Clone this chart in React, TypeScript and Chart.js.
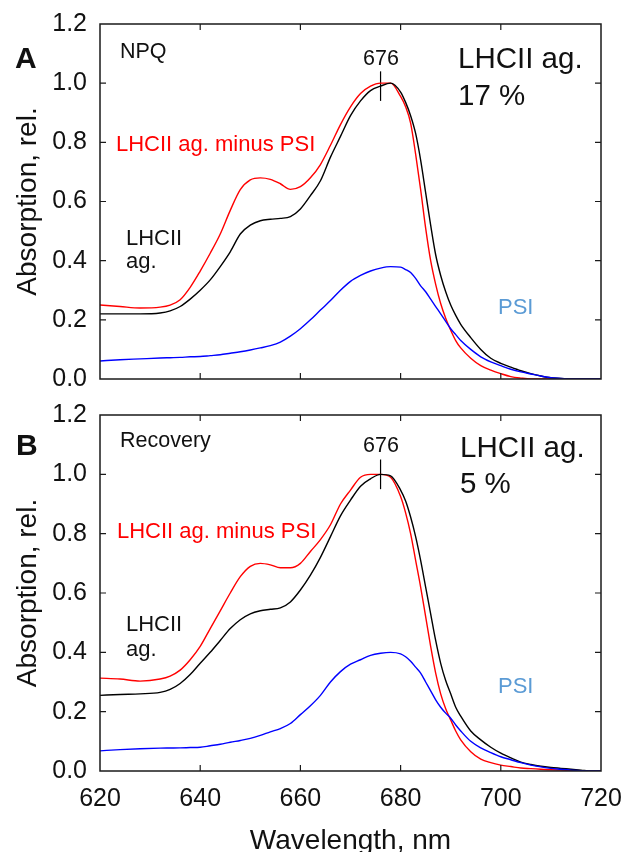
import React, { useEffect, useRef } from "react";
import { Chart, registerables } from "chart.js";

Chart.register(...registerables);

// ---- data ----
const wavelengths = [
  620, 624, 628, 632, 634, 636, 638, 640, 642, 644, 646, 648, 650, 652, 654, 656, 658, 660,
  662, 664, 666, 668, 670, 672, 674, 676, 678, 680, 681, 682, 683, 684, 685, 686, 687, 688,
  689, 690, 691, 692, 694, 696, 698, 700, 702, 704, 706, 708, 710, 712, 714, 716, 718, 720,
];

// Panel A – NPQ
const npqMinusPSI = [
  0.25, 0.245, 0.24, 0.243, 0.25, 0.268, 0.31, 0.365, 0.425, 0.49, 0.57, 0.64, 0.673, 0.68, 0.675, 0.66, 0.641, 0.65,
  0.68, 0.725, 0.79, 0.86, 0.92, 0.965, 0.99, 1.0, 1.0, 0.955, 0.92, 0.865, 0.76, 0.64, 0.51, 0.4, 0.32, 0.255,
  0.205, 0.165, 0.13, 0.105, 0.07, 0.045, 0.03, 0.018, 0.008, 0.003, 0, 0, 0, 0, 0, 0, 0, 0,
];
const npqLHCII = [
  0.22, 0.22, 0.22, 0.223, 0.23, 0.245, 0.27, 0.3, 0.335, 0.38, 0.43, 0.49, 0.52, 0.535, 0.54, 0.543, 0.549, 0.575,
  0.62, 0.67, 0.75, 0.82, 0.89, 0.94, 0.975, 0.99, 1.0, 0.97, 0.935, 0.89, 0.83, 0.74, 0.63, 0.52, 0.42, 0.35,
  0.295, 0.25, 0.215, 0.185, 0.14, 0.1, 0.07, 0.053, 0.04, 0.028, 0.018, 0.01, 0.004, 0.002, 0, 0, 0, 0,
];
const npqPSI = [
  0.061, 0.065, 0.068, 0.071, 0.072, 0.073, 0.075, 0.076, 0.079, 0.082, 0.087, 0.092, 0.098, 0.105, 0.113, 0.125, 0.145, 0.17,
  0.2, 0.233, 0.265, 0.3, 0.33, 0.35, 0.365, 0.375, 0.38, 0.378, 0.37, 0.36, 0.34, 0.315, 0.295, 0.27, 0.245, 0.22,
  0.195, 0.17, 0.15, 0.13, 0.1, 0.075, 0.058, 0.045, 0.033, 0.024, 0.017, 0.01, 0.004, 0.002, 0, 0, 0, 0,
];

// Panel B – Recovery
const recMinusPSI = [
  0.313, 0.31, 0.303, 0.31, 0.32, 0.34, 0.375, 0.42, 0.48, 0.54, 0.6, 0.655, 0.69, 0.7, 0.695, 0.685, 0.685, 0.7,
  0.74, 0.78, 0.83, 0.9, 0.947, 0.99, 1.0, 1.0, 0.99, 0.925, 0.87, 0.8, 0.71, 0.62, 0.52, 0.42, 0.33, 0.26,
  0.21, 0.172, 0.135, 0.105, 0.065, 0.04, 0.028, 0.02, 0.015, 0.01, 0.008, 0.006, 0.004, 0.003, 0.002, 0.001, 0, 0,
];
const recLHCII = [
  0.255, 0.258, 0.26, 0.265, 0.275, 0.295, 0.325, 0.363, 0.4, 0.44, 0.48, 0.51, 0.53, 0.54, 0.545, 0.55, 0.57, 0.61,
  0.66, 0.72, 0.79, 0.86, 0.913, 0.96, 0.985, 1.0, 0.995, 0.947, 0.91, 0.856, 0.79, 0.71, 0.62, 0.53, 0.44, 0.363,
  0.305, 0.26, 0.215, 0.185, 0.135, 0.105, 0.08, 0.06, 0.044, 0.03, 0.022, 0.016, 0.012, 0.009, 0.006, 0.003, 0, 0,
];
const recPSI = [
  0.068, 0.072, 0.075, 0.077, 0.0775, 0.078, 0.079, 0.08, 0.085, 0.09, 0.097, 0.103, 0.11, 0.12, 0.132, 0.143, 0.16, 0.19,
  0.22, 0.255, 0.3, 0.335, 0.36, 0.375, 0.39, 0.397, 0.4, 0.395, 0.385, 0.37, 0.35, 0.33, 0.3, 0.27, 0.24, 0.215,
  0.195, 0.178, 0.155, 0.135, 0.1, 0.078, 0.062, 0.048, 0.038, 0.028, 0.02, 0.014, 0.009, 0.006, 0.003, 0.001, 0, 0,
];

const xTicks = [620, 640, 660, 680, 700, 720];
const yTicks = [0, 0.2, 0.4, 0.6, 0.8, 1.0, 1.2];
const peakWavelength = 676;
const peakMarkA = [0.94, 1.04];
const peakMarkB = [0.95, 1.05];

const FONT = "'Liberation Sans', Arial, Helvetica, sans-serif";
const INK = "#111111";

type Note = { text: string; x: number; y: number; size: number; color?: string; bold?: boolean; align?: CanvasTextAlign };

function pts(vals: number[]) {
  return wavelengths.map((w, i) => ({ x: w, y: vals[i] }));
}

function buildChart(
  canvas: HTMLCanvasElement,
  red: number[],
  black: number[],
  blue: number[],
  mark: number[],
  notes: Note[],
  showX: boolean,
  padTop: number,
  xHeight: number
) {
  const framePlugin = {
    id: "frameTicks",
    afterDatasetsDraw(chart: any) {
      const { ctx, chartArea: a, scales } = chart;
      ctx.save();
      ctx.strokeStyle = "#1a1a1a";
      ctx.lineWidth = 1.5;
      ctx.strokeRect(a.left, a.top, a.right - a.left, a.bottom - a.top);
      const L = 6;
      ctx.lineWidth = 1.2;
      ctx.beginPath();
      for (const v of xTicks) {
        const px = scales.x.getPixelForValue(v);
        if (px <= a.left + 1 || px >= a.right - 1) continue;
        ctx.moveTo(px, a.bottom);
        ctx.lineTo(px, a.bottom - L);
        ctx.moveTo(px, a.top);
        ctx.lineTo(px, a.top + L);
      }
      for (const v of yTicks) {
        const py = scales.y.getPixelForValue(v);
        if (py >= a.bottom - 1 || py <= a.top + 1) continue;
        ctx.moveTo(a.left, py);
        ctx.lineTo(a.left + L, py);
        ctx.moveTo(a.right, py);
        ctx.lineTo(a.right - L, py);
      }
      ctx.stroke();
      for (const n of notes) {
        ctx.font = `${n.bold ? "bold " : ""}${n.size}px ${FONT}`;
        ctx.fillStyle = n.color || INK;
        ctx.textAlign = n.align || "left";
        ctx.textBaseline = "alphabetic";
        ctx.fillText(n.text, n.x, n.y);
      }
      ctx.restore();
    },
  };

  const ds = (data: any[], color: string, width = 1.4) => ({
    data,
    borderColor: color,
    borderWidth: width,
    pointRadius: 0,
    fill: false,
    cubicInterpolationMode: "monotone" as const,
  });

  return new Chart(canvas, {
    type: "line",
    data: {
      datasets: [
        ds(pts(blue), "#0000ff"),
        ds(pts(black), "#000000"),
        ds(pts(red), "#ff0000"),
        ds(
          mark.map((v) => ({ x: peakWavelength, y: v })),
          "#000000",
          1.2
        ),
      ],
    },
    options: {
      responsive: false,
      animation: false,
      events: [],
      layout: { padding: { left: 0, top: padTop, right: 22, bottom: 0 } },
      plugins: { legend: { display: false }, tooltip: { enabled: false } },
      scales: {
        x: {
          type: "linear",
          min: 620,
          max: 720,
          afterFit: (s: any) => {
            s.height = xHeight;
            s.paddingLeft = 0;
            s.paddingRight = 0;
          },
          grid: { display: false, drawTicks: false },
          border: { display: false },
          ticks: {
            display: showX,
            stepSize: 20,
            padding: 13,
            color: INK,
            font: { family: FONT, size: 25 },
          },
          title: {
            display: showX,
            text: "Wavelength, nm",
            color: INK,
            font: { family: FONT, size: 28, lineHeight: 1 },
            padding: { top: 0, bottom: -3 },
          },
        },
        y: {
          type: "linear",
          min: 0,
          max: 1.2,
          afterFit: (s: any) => {
            s.width = 100;
            s.paddingTop = 0;
            s.paddingBottom = 0;
          },
          grid: { display: false, drawTicks: false },
          border: { display: false },
          ticks: {
            stepSize: 0.2,
            padding: 13,
            color: INK,
            font: { family: FONT, size: 25 },
            callback: (v: any) => Number(v).toFixed(1),
          },
          title: {
            display: true,
            text: "Absorption, rel.",
            color: INK,
            font: { family: FONT, size: 28 },
            padding: { top: 11, bottom: 0 },
          },
        },
      },
    } as any,
    plugins: [framePlugin],
  });
}

const notesA: Note[] = [
  { text: "A", x: 15, y: 68, size: 30, bold: true },
  { text: "NPQ", x: 120, y: 58, size: 21.5 },
  { text: "676", x: 381, y: 65, size: 21.5, align: "center" },
  { text: "LHCII ag.", x: 458, y: 68, size: 29.5 },
  { text: "17 %", x: 458, y: 105, size: 29.5 },
  { text: "LHCII ag. minus PSI", x: 116, y: 151, size: 22 },
  { text: "LHCII", x: 126, y: 245, size: 22 },
  { text: "ag.", x: 126, y: 268, size: 22 },
  { text: "PSI", x: 498, y: 314, size: 22, color: "#5b9bd5" },
];
notesA[5].color = "#ff0000";

const notesB: Note[] = [
  { text: "B", x: 16, y: 55, size: 30, bold: true },
  { text: "Recovery", x: 120, y: 47, size: 21.5 },
  { text: "676", x: 381, y: 52, size: 21.5, align: "center" },
  { text: "LHCII ag.", x: 460, y: 57, size: 29.5 },
  { text: "5 %", x: 460, y: 93, size: 29.5 },
  { text: "LHCII ag. minus PSI", x: 117, y: 138, size: 22, color: "#ff0000" },
  { text: "LHCII", x: 126, y: 231, size: 22 },
  { text: "ag.", x: 126, y: 256, size: 22 },
  { text: "PSI", x: 498, y: 293, size: 22, color: "#5b9bd5" },
];

export default function App() {
  const refA = useRef<HTMLCanvasElement>(null);
  const refB = useRef<HTMLCanvasElement>(null);

  useEffect(() => {
    const cA = buildChart(refA.current!, npqMinusPSI, npqLHCII, npqPSI, peakMarkA, notesA, false, 24, 21);
    const cB = buildChart(refB.current!, recMinusPSI, recLHCII, recPSI, peakMarkB, notesB, true, 15, 81);
    return () => {
      cA.destroy();
      cB.destroy();
    };
  }, []);

  return (
    <div
      style={{
        position: "absolute",
        left: 0,
        top: 0,
        width: 623,
        height: 852,
        background: "#ffffff",
        overflow: "hidden",
      }}
    >
      <canvas ref={refA} width={623} height={400} style={{ position: "absolute", left: 0, top: 0 }} />
      <canvas ref={refB} width={623} height={452} style={{ position: "absolute", left: 0, top: 400 }} />
    </div>
  );
}
